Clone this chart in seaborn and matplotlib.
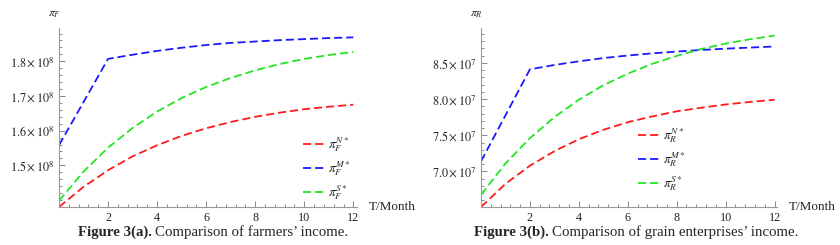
import numpy as np
import pandas as pd
import matplotlib
matplotlib.use("Agg")
import matplotlib.pyplot as plt
import matplotlib.ticker as mticker
import seaborn as sns

# months on the x axis
months = list(range(13))

# farmers' income (Figure 3a)
farm_N = [1.380e8, 1.438e8, 1.486e8, 1.526e8, 1.558e8, 1.585e8, 1.607e8,
          1.625e8, 1.640e8, 1.652e8, 1.662e8, 1.669e8, 1.675e8]
farm_M = [1.558e8, 1.6825e8, 1.807e8, 1.819e8, 1.830e8, 1.839e8, 1.847e8,
          1.853e8, 1.857e8, 1.861e8, 1.864e8, 1.867e8, 1.869e8]
farm_S = [1.398e8, 1.482e8, 1.551e8, 1.608e8, 1.655e8, 1.694e8, 1.726e8,
          1.752e8, 1.774e8, 1.792e8, 1.807e8, 1.818e8, 1.827e8]

# grain enterprises' income (Figure 3b)
grain_N = [6.51e7, 6.83e7, 7.08e7, 7.28e7, 7.445e7, 7.575e7, 7.68e7,
           7.76e7, 7.83e7, 7.88e7, 7.925e7, 7.96e7, 7.99e7]
grain_M = [7.14e7, 7.775e7, 8.41e7, 8.47e7, 8.52e7, 8.565e7, 8.60e7,
           8.63e7, 8.655e7, 8.677e7, 8.695e7, 8.71e7, 8.725e7]
grain_S = [6.68e7, 7.11e7, 7.46e7, 7.75e7, 7.99e7, 8.19e7, 8.35e7,
           8.485e7, 8.595e7, 8.69e7, 8.765e7, 8.825e7, 8.875e7]

series = ["N", "M", "S"]
colors = {"N": "#ff1a1a", "M": "#1a1aff", "S": "#22e622"}

sns.set_style("ticks")
plt.rcParams["font.family"] = ["Liberation Serif", "DejaVu Serif"]
plt.rcParams["mathtext.fontset"] = "stix"

fig = plt.figure(figsize=(8.4, 2.45), dpi=100)
W, H = 840, 245


def make_axes(x0, x1, y0, y1):
    return fig.add_axes([x0 / W, (H - y1) / H, (x1 - x0) / W, (y1 - y0) / H])


def sci(exp):
    def f(v, pos):
        return r"$%.1f\times10^{%d}$" % (v / 10 ** exp, exp)
    return f


def draw(ax, vals, sub, ylim, majors, minor, exp, xmax, leg_xy):
    df = pd.DataFrame({
        "month": months * 3,
        "value": vals[0] + vals[1] + vals[2],
        "series": sum([[s] * len(months) for s in series], []),
    })
    sns.lineplot(data=df, x="month", y="value", hue="series", style="series",
                 palette=colors, dashes={s: (4.5, 2.2) for s in series},
                 linewidth=1.3, legend=False, ax=ax)
    ax.set_xlim(0, xmax)
    ax.set_ylim(*ylim)
    ax.set_xticks([2, 4, 6, 8, 10, 12])
    ax.xaxis.set_minor_locator(mticker.MultipleLocator(0.4))
    ax.set_yticks(majors)
    ax.yaxis.set_minor_locator(mticker.MultipleLocator(minor))
    ax.yaxis.set_major_formatter(mticker.FuncFormatter(sci(exp)))
    ax.tick_params(which="both", direction="in", colors="#888888",
                   labelcolor="#222222", labelsize=8.7, width=0.7)
    ax.tick_params(which="major", length=4)
    ax.tick_params(which="minor", length=2.5)
    for s in ["top", "right"]:
        ax.spines[s].set_visible(False)
    for s in ["left", "bottom"]:
        ax.spines[s].set_color("#999999")
        ax.spines[s].set_linewidth(0.8)
    ax.set_xlabel("")
    ax.set_ylabel("")
    ax.text(-0.015, 1.08, r"$\pi_{%s}$" % sub, transform=ax.transAxes,
            ha="center", va="center", fontsize=8.5)
    ax.text(1.04, 0.0, "T/Month", transform=ax.transAxes,
            ha="left", va="center", fontsize=9.5)
    labels = [r"$\pi_{%s}^{%s*}$" % (sub, s) for s in series]
    ax.legend(ax.get_lines()[:3], labels, loc="upper left",
              bbox_to_anchor=leg_xy, frameon=False, fontsize=9.5,
              handlelength=1.6, handletextpad=0.3, labelspacing=0.4,
              borderpad=0, borderaxespad=0)


ax1 = make_axes(59, 357, 28, 207)
draw(ax1, [farm_N, farm_M, farm_S], "F", (1.38e8, 1.896e8),
     [1.5e8, 1.6e8, 1.7e8, 1.8e8], 0.02e8, 8, 12.15, (0.82, 0.40))

ax2 = make_axes(481, 777, 28, 207)
draw(ax2, [grain_N, grain_M, grain_S], "R", (6.51e7, 8.98e7),
     [7.0e7, 7.5e7, 8.0e7, 8.5e7], 0.1e7, 7, 12.1, (0.53, 0.45))

# captions
cy = (H - 232) / H
fig.text(152 / W, cy, "Figure 3(a).", ha="right", va="center",
         fontsize=10.7, fontweight="bold")
fig.text(155 / W, cy, "Comparison of farmers\u2019 income.", ha="left",
         va="center", fontsize=10.7)
fig.text(549 / W, cy, "Figure 3(b).", ha="right", va="center",
         fontsize=10.7, fontweight="bold")
fig.text(552 / W, cy, "Comparison of grain enterprises\u2019 income.",
         ha="left", va="center", fontsize=10.7)

fig.savefig("out.png", dpi=100)
